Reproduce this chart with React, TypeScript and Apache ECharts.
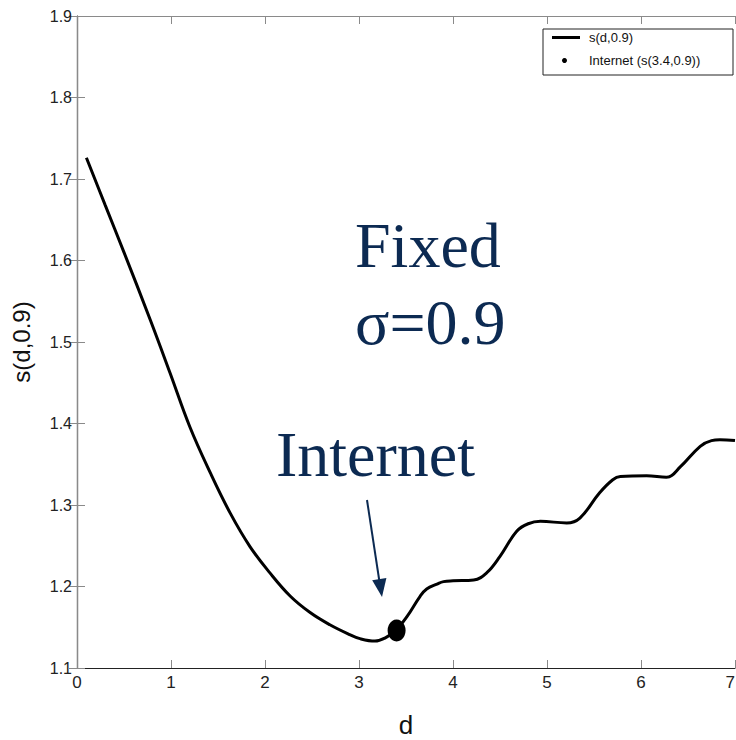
import React, { useEffect, useRef } from "react";
import * as echarts from "echarts";

// distance d and the corresponding s(d, 0.9)
const dValues = [
  0.1, 0.3, 0.5, 0.78, 0.99, 1.2, 1.42, 1.63, 1.84, 2.05, 2.27, 2.48, 2.69, 2.9,
  3.01, 3.17, 3.28, 3.39, 3.51, 3.65, 3.72, 3.83, 3.9, 4.0, 4.22, 4.36, 4.5,
  4.68, 4.8, 4.93, 5.21, 5.35, 5.56, 5.7, 5.78, 6.06, 6.27, 6.42, 6.63, 6.75,
  6.84, 7.0,
];
const sValues = [
  1.726, 1.668, 1.61, 1.527, 1.462, 1.396, 1.339, 1.29, 1.249, 1.217, 1.188,
  1.168, 1.153, 1.141, 1.136, 1.133, 1.137, 1.146, 1.163, 1.188, 1.197, 1.203,
  1.206, 1.207, 1.208, 1.217, 1.237, 1.268, 1.277, 1.28, 1.278, 1.284, 1.315,
  1.331, 1.335, 1.336, 1.334, 1.347, 1.372, 1.379, 1.38, 1.379,
];

// the Internet's operating point
const internetD = [3.4];
const internetS = [1.146];

const xTicks = { min: 0, max: 7, interval: 1 };
const yTicks = { min: 1.1, max: 1.9, interval: 0.1 };

const curveName = "s(d,0.9)";
const pointName = "Internet (s(3.4,0.9))";

const navy = "#0c2a52";
const sans = "'Liberation Sans', Arial, sans-serif";
const serif = "'Liberation Serif', 'Times New Roman', serif";

export default function App() {
  const ref = useRef<HTMLDivElement>(null);

  useEffect(() => {
    if (!ref.current) return;
    const chart = echarts.init(ref.current, undefined, { renderer: "svg" });

    const tickStyle = {
      show: true,
      inside: true,
      length: 8,
      lineStyle: { color: "#8a8a8a", width: 1 },
    };

    const option: any = {
      animation: false,
      backgroundColor: "#ffffff",
      grid: {
        left: 77,
        right: 1,
        top: 16,
        bottom: 72,
        containLabel: false,
        outerBoundsMode: "none",
      },
      xAxis: [
        {
          type: "value",
          position: "bottom",
          ...xTicks,
          name: "d",
          nameLocation: "middle",
          nameGap: 44,
          nameTextStyle: { fontSize: 26, color: "#111", fontFamily: sans },
          axisLine: { show: true, lineStyle: { color: "#222", width: 1.2 } },
          axisTick: tickStyle,
          axisLabel: {
            margin: 6,
            fontSize: 17,
            color: "#222",
            fontFamily: sans,
            alignMaxLabel: "right",
          },
          splitLine: { show: false },
        },
        {
          type: "value",
          position: "top",
          ...xTicks,
          axisLine: { show: true, lineStyle: { color: "#8a8a8a", width: 1.2 } },
          axisTick: tickStyle,
          axisLabel: { show: false },
          splitLine: { show: false },
        },
      ],
      yAxis: [
        {
          type: "value",
          position: "left",
          ...yTicks,
          name: "s(d,0.9)",
          nameLocation: "middle",
          nameRotate: 90,
          nameGap: 44,
          nameTextStyle: { fontSize: 24, color: "#111", fontFamily: sans },
          axisLine: { show: true, lineStyle: { color: "#222", width: 1.2 } },
          axisTick: tickStyle,
          axisLabel: {
            margin: 5,
            fontSize: 16,
            color: "#222",
            fontFamily: sans,
            formatter: (v: number) => v.toFixed(1),
          },
          splitLine: { show: false },
        },
        {
          type: "value",
          position: "right",
          ...yTicks,
          axisLine: { show: true, lineStyle: { color: "#8a8a8a", width: 1.2 } },
          axisTick: tickStyle,
          axisLabel: { show: false },
          splitLine: { show: false },
        },
      ],
      legend: [
        {
          data: [{ name: curveName, icon: "rect" }],
          orient: "vertical",
          left: 552,
          top: 31,
          padding: 0,
          itemWidth: 28,
          itemHeight: 3,
          selectedMode: false,
          textStyle: {
            fontSize: 13,
            color: "#111",
            fontFamily: sans,
            padding: [0, 0, 0, 4],
          },
        },
        {
          data: [{ name: pointName, icon: "circle" }],
          orient: "vertical",
          left: 562,
          top: 54,
          padding: 0,
          itemWidth: 5,
          itemHeight: 5,
          selectedMode: false,
          itemStyle: { color: "#000", opacity: 1 },
          textStyle: {
            fontSize: 13,
            color: "#111",
            fontFamily: sans,
            padding: [0, 0, 0, 17],
          },
        },
      ],
      series: [
        {
          name: curveName,
          type: "line",
          xAxisIndex: 0,
          yAxisIndex: 0,
          data: dValues.map((d, i) => [d, sValues[i]]),
          showSymbol: false,
          symbol: "none",
          smooth: 0.4,
          lineStyle: { color: "#000", width: 3 },
          itemStyle: { color: "#000" },
          z: 3,
        },
        {
          name: pointName,
          type: "scatter",
          xAxisIndex: 0,
          yAxisIndex: 0,
          data: internetD.map((d, i) => [d, internetS[i]]),
          symbol: "circle",
          symbolSize: [18, 22],
          itemStyle: { color: "#000", opacity: 1 },
          z: 4,
        },
      ],
      graphic: [
        {
          type: "rect",
          z: 0,
          shape: { x: 543, y: 29, width: 190, height: 46 },
          style: { fill: "#fff", stroke: "#222", lineWidth: 1 },
        },
        {
          type: "text",
          z: 10,
          style: {
            x: 355,
            y: 245,
            text: "Fixed",
            fontSize: 64,
            fontFamily: serif,
            fill: navy,
            verticalAlign: "middle",
          },
        },
        {
          type: "text",
          z: 10,
          style: {
            x: 355,
            y: 322,
            text: "σ=0.9",
            fontSize: 64,
            fontFamily: serif,
            fill: navy,
            verticalAlign: "middle",
          },
        },
        {
          type: "text",
          z: 10,
          style: {
            x: 276,
            y: 454,
            text: "Internet",
            fontSize: 64,
            fontFamily: serif,
            fill: navy,
            verticalAlign: "middle",
          },
        },
        {
          type: "line",
          z: 10,
          shape: { x1: 367, y1: 500, x2: 379.2, y2: 580 },
          style: { stroke: navy, lineWidth: 2 },
        },
        {
          type: "polygon",
          z: 10,
          shape: {
            points: [
              [382, 597],
              [386.4, 578.1],
              [372.2, 580.3],
            ],
          },
          style: { fill: navy },
        },
      ],
    };

    chart.setOption(option);
    return () => chart.dispose();
  }, []);

  return (
    <div
      ref={ref}
      style={{
        position: "fixed",
        left: 0,
        top: 0,
        width: 736,
        height: 740,
        background: "#fff",
      }}
    />
  );
}
